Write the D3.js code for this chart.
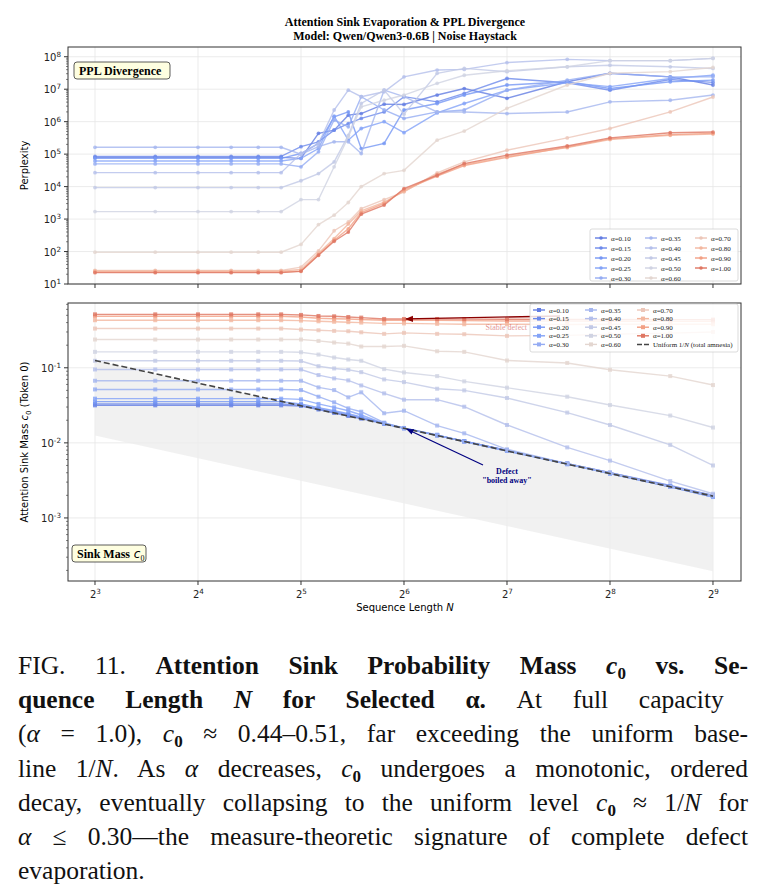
<!DOCTYPE html>
<html><head><meta charset="utf-8">
<script src="https://cdn.jsdelivr.net/npm/d3@7"></script>
<style>body{margin:0;background:#fff}svg{display:block}</style>
</head><body><svg id="c" width="766" height="892"></svg>
<script>
const seqN=[8,12,16,20,24,28,32,36,40,44,48,56,64,80,96,128,192,256,384,512];
const alphas=[0.10,0.15,0.20,0.25,0.30,0.35,0.40,0.45,0.50,0.60,0.70,0.80,0.90,1.00];
const xTickExp=[3,4,5,6,7,8,9];
const pplTickExp=[1,2,3,4,5,6,7,8];
const sinkTickExp=[-3,-2,-1];
// log10(perplexity) per alpha, one value per seqN
const pplLog10={
"0.10":[4.90,4.90,4.90,4.90,4.90,4.90,4.87,5.64,5.74,6.20,6.25,6.54,6.53,6.82,7.02,6.72,7.23,7.49,7.38,7.13],
"0.15":[4.93,4.93,4.93,4.93,4.93,4.93,5.23,5.38,5.74,5.94,6.10,6.30,6.77,6.61,6.87,7.33,7.20,6.97,7.30,7.21],
"0.20":[4.87,4.87,4.87,4.87,4.87,4.87,5.02,5.33,6.15,6.30,5.17,5.33,6.36,6.56,6.82,7.13,7.23,7.02,7.23,7.28],
"0.25":[4.79,4.79,4.79,4.79,4.79,4.79,4.87,5.17,6.17,5.43,5.79,6.00,5.66,6.27,6.56,6.97,7.20,7.08,7.33,7.43],
"0.30":[4.70,4.70,4.70,4.70,4.70,4.70,4.61,5.07,6.05,5.84,6.77,6.36,6.10,6.30,6.36,6.97,7.28,7.49,7.38,7.38],
"0.35":[5.21,5.21,5.21,5.21,5.21,5.21,5.00,5.23,5.38,5.38,5.02,6.97,6.77,6.30,6.30,6.25,6.30,6.61,6.66,6.82],
"0.40":[4.43,4.43,4.43,4.43,4.43,4.43,5.02,5.33,6.36,6.97,6.77,6.92,7.38,7.59,7.61,7.82,7.92,7.88,7.88,7.95],
"0.45":[3.97,3.97,3.97,3.97,3.97,3.97,4.18,4.40,4.76,5.58,6.56,6.97,6.23,7.49,7.64,7.54,7.69,7.74,7.69,7.64],
"0.50":[3.23,3.23,3.23,3.23,3.23,3.23,3.60,3.60,4.61,5.53,6.46,6.66,6.82,7.18,7.43,7.57,7.69,7.88,7.88,7.95],
"0.60":[1.98,1.98,1.98,1.98,1.98,1.98,2.22,2.83,3.12,3.51,4.00,4.40,4.50,5.43,5.71,6.41,7.13,7.49,7.54,7.67],
"0.70":[1.42,1.42,1.42,1.42,1.42,1.42,1.52,2.02,2.64,2.91,3.32,3.60,3.84,4.42,4.76,5.12,5.50,5.79,6.30,6.76],
"0.80":[1.40,1.40,1.40,1.40,1.40,1.40,1.45,1.95,2.40,2.85,3.25,3.52,3.85,4.38,4.68,4.93,5.20,5.45,5.58,5.62],
"0.90":[1.37,1.37,1.37,1.37,1.37,1.37,1.40,1.90,2.35,2.70,3.20,3.48,3.90,4.32,4.65,4.90,5.22,5.47,5.60,5.64],
"1.00":[1.35,1.35,1.35,1.35,1.35,1.35,1.39,1.885,2.317,2.60,3.15,3.43,3.94,4.35,4.71,4.97,5.25,5.50,5.66,5.68]};
// sink mass c0 per alpha
const sinkMass={
"0.10":[.0316,.0316,.0316,.0316,.0316,.0316,.031,.0278,.025,.0228,.021,.018,.0157,.0126,.0105,.0079,.0053,.004,.0027,.002],
"0.15":[.033,.033,.033,.033,.033,.033,.0318,.0285,.0258,.0235,.0215,.0182,.0158,.0126,.0105,.0079,.0053,.004,.0026,.002],
"0.20":[.0354,.0354,.0354,.0354,.0354,.0354,.033,.0295,.0268,.0244,.0222,.018,.0156,.0126,.0105,.0079,.0052,.0039,.0026,.0019],
"0.25":[.0388,.0388,.0388,.0388,.0388,.0388,.038,.033,.0297,.0268,.0235,.0182,.0157,.0128,.0104,.0078,.0052,.0039,.0026,.0019],
"0.30":[.0515,.0515,.0515,.0515,.0515,.0515,.0505,.0412,.0347,.0288,.026,.0186,.0157,.0128,.0104,.0078,.0053,.0039,.0026,.0019],
"0.35":[.0672,.0672,.0672,.0672,.0672,.0672,.0672,.0548,.0505,.0404,.0471,.0248,.0268,.017,.0134,.0082,.0053,.004,.0026,.002],
"0.40":[.095,.095,.095,.095,.095,.095,.095,.080,.0722,.0679,.0582,.0456,.0376,.0376,.0303,.0173,.0087,.0058,.0031,.0021],
"0.45":[.124,.124,.124,.124,.124,.124,.123,.105,.098,.094,.0875,.070,.0645,.0526,.050,.0396,.0253,.0173,.0094,.005],
"0.50":[.163,.163,.163,.163,.163,.163,.161,.15,.137,.129,.124,.096,.0867,.0775,.0659,.0543,.0412,.0319,.0231,.016],
"0.60":[.238,.238,.238,.238,.238,.238,.238,.228,.217,.21,.192,.192,.196,.166,.163,.125,.116,.094,.0775,.0589],
"0.70":[.333,.333,.333,.333,.333,.333,.323,.316,.31,.307,.297,.283,.292,.283,.28,.266,.27,.28,.29,.30],
"0.80":[.43,.43,.43,.43,.43,.43,.425,.416,.41,.405,.40,.39,.39,.385,.38,.38,.378,.38,.38,.38],
"0.90":[.485,.485,.485,.485,.485,.485,.475,.456,.45,.447,.44,.43,.43,.428,.425,.42,.418,.416,.415,.416],
"1.00":[.515,.515,.515,.515,.515,.515,.506,.49,.485,.475,.466,.447,.447,.447,.445,.443,.44,.44,.438,.438]};

const svg=d3.select("#c");
const L=68,R=741;
const top1=47,bot1=284,top2=303,bot2=581;
const x=d3.scaleLog().base(2).domain([Math.pow(2,2.738),Math.pow(2,9.272)]).range([L,R]);
const y1=d3.scaleLog().domain([10,Math.pow(10,8.3)]).range([bot1,top1]);
const y2=d3.scaleLog().domain([Math.pow(10,-3.84),Math.pow(10,-0.137)]).range([bot2,top2]);
const cw=d3.scaleLinear().domain([0,0.25,0.5,0.75,1]).range(["#3b4cc0","#7b9ff9","#dddddd","#f7ac8e","#b40426"]).interpolate(d3.interpolateLab);
const col=a=>cw(0.15+0.7*(a-0.1)/0.9);
const SANS="DejaVu Sans",SERIF="Liberation Serif";

svg.append("text").attr("x",405).attr("y",26).attr("text-anchor","middle").attr("font-family",SERIF).attr("font-weight","bold").attr("font-size",12).text("Attention Sink Evaporation & PPL Divergence");
svg.append("text").attr("x",405).attr("y",40).attr("text-anchor","middle").attr("font-family",SERIF).attr("font-weight","bold").attr("font-size",12).text("Model: Qwen/Qwen3-0.6B | Noise Haystack");

function supLabel(g,base,exp,fs){
  const t=g.append("text").attr("font-family",SANS).attr("font-size",fs).attr("fill","#222");
  t.append("tspan").text(base);
  t.append("tspan").attr("dy",-4).attr("font-size",fs*0.72).text(exp);
  return t;
}
function panel(top,bot,y,yExps){
  const g=svg.append("g");
  xTickExp.forEach(e=>g.append("line").attr("x1",x(2**e)).attr("x2",x(2**e)).attr("y1",top).attr("y2",bot).attr("stroke","#e6e6e6").attr("stroke-width",0.8));
  yExps.forEach(e=>g.append("line").attr("x1",L).attr("x2",R).attr("y1",y(10**e)).attr("y2",y(10**e)).attr("stroke","#e6e6e6").attr("stroke-width",0.8));
  return g;
}
function frame(top,bot,y,yExps){
  const g=svg.append("g");
  g.append("rect").attr("x",L).attr("y",top).attr("width",R-L).attr("height",bot-top).attr("fill","none").attr("stroke","#333").attr("stroke-width",1);
  xTickExp.forEach(e=>{
    g.append("line").attr("x1",x(2**e)).attr("x2",x(2**e)).attr("y1",bot).attr("y2",bot+4).attr("stroke","#333");
    if(bot===bot2){const t=supLabel(g,"2",String(e),10);t.attr("x",x(2**e)-5).attr("y",bot+17);}
  });
  const d=y.domain();
  for(let e=Math.floor(Math.log10(d[0]));e<=Math.ceil(Math.log10(d[1]));e++){
    for(let m=1;m<10;m++){const v=m*10**e; if(v<d[0]||v>d[1])continue;
      g.append("line").attr("x1",L).attr("x2",L-(m===1?4:2)).attr("y1",y(v)).attr("y2",y(v)).attr("stroke","#333").attr("stroke-width",m===1?1:0.6);}
  }
  yExps.forEach(e=>{const t=supLabel(g,"10",String(e),10);t.attr("x",L-7).attr("y",y(10**e)+4).attr("text-anchor","end");});
  return g;
}
function badge(xx,yy,label,sub){
  const g=svg.append("g");
  const w=sub?74:96;
  g.append("rect").attr("x",xx).attr("y",yy).attr("width",w).attr("height",17).attr("rx",3).attr("fill","#fefee0").attr("stroke","#333").attr("stroke-width",0.8);
  const t=g.append("text").attr("x",xx+5).attr("y",yy+12.5).attr("font-family",SERIF).attr("font-weight","bold").attr("font-size",12).text(label);
  if(sub){t.append("tspan").attr("font-style","italic").attr("font-weight","normal").attr("font-family",SANS).text(" c");t.append("tspan").attr("dy",3).attr("font-size",8).attr("font-weight","normal").text("0");}
}

// ---- top panel
panel(top1,bot1,y1,pplTickExp);
const line1=d3.line().x((d,i)=>x(seqN[i])).y(d=>y1(Math.pow(10,d)));
alphas.forEach(a=>{
  const k=a.toFixed(2),v=pplLog10[k],c=col(a);
  svg.append("path").attr("d",line1(v)).attr("fill","none").attr("stroke",c).attr("stroke-width",1.4).attr("opacity",0.8);
  svg.append("g").selectAll("circle").data(v).join("circle").attr("cx",(d,i)=>x(seqN[i])).attr("cy",d=>y1(Math.pow(10,d))).attr("r",1.9).attr("fill",c).attr("opacity",0.8);
});
frame(top1,bot1,y1,pplTickExp);
badge(74,62,"PPL Divergence");
svg.append("text").attr("transform",`translate(28,${(top1+bot1)/2}) rotate(-90)`).attr("text-anchor","middle").attr("font-family",SANS).attr("font-size",10).text("Perplexity");

(function(){
  const g=svg.append("g");
  g.append("rect").attr("x",590).attr("y",229).attr("width",148).attr("height",52).attr("rx",2).attr("fill","#fff").attr("fill-opacity",0.85).attr("stroke","#ccc").attr("stroke-width",0.7);
  alphas.forEach((a,i)=>{
    const ci=i<5?0:(i<10?1:2), ri=i<5?i:(i<10?i-5:i-10);
    const lx=595+ci*50, ly=238+ri*10, c=col(a);
    g.append("line").attr("x1",lx).attr("x2",lx+12).attr("y1",ly).attr("y2",ly).attr("stroke",c).attr("stroke-width",1.4);
    g.append("circle").attr("cx",lx+6).attr("cy",ly).attr("r",1.8).attr("fill",c);
    g.append("text").attr("x",lx+16).attr("y",ly+2.5).attr("font-family",SERIF).attr("font-size",7).attr("fill","#222").text("α="+a.toFixed(2));
  });
})();

// ---- bottom panel
panel(top2,bot2,y2,sinkTickExp);
const band=d3.area().x(d=>x(d)).y0(d=>y2(0.1/d)).y1(d=>y2(1/d));
svg.append("path").attr("d",band([8,512])).attr("fill","#ececec").attr("opacity",0.75);
const line2=d3.line().x((d,i)=>x(seqN[i])).y(d=>y2(d));
alphas.forEach(a=>{
  const k=a.toFixed(2),v=sinkMass[k],c=col(a);
  svg.append("path").attr("d",line2(v)).attr("fill","none").attr("stroke",c).attr("stroke-width",1.4).attr("opacity",0.8);
  svg.append("g").selectAll("rect").data(v).join("rect").attr("x",(d,i)=>x(seqN[i])-2).attr("y",d=>y2(d)-2).attr("width",4).attr("height",4).attr("fill",c).attr("opacity",0.8);
});
svg.append("path").attr("d",d3.line().x(d=>x(d)).y(d=>y2(1/d))([8,512])).attr("fill","none").attr("stroke","#444").attr("stroke-width",1.6).attr("stroke-dasharray","6,3");
const defs=svg.append("defs");
[["ahR","#8b0000"],["ahB","#000080"]].forEach(([id,c])=>defs.append("marker").attr("id",id).attr("viewBox","0 0 10 10").attr("refX",9).attr("refY",5).attr("markerWidth",6).attr("markerHeight",6).attr("orient","auto").append("path").attr("d","M0,1L10,5L0,9Z").attr("fill",c));
svg.append("line").attr("x1",560).attr("y1",316).attr("x2",x(64)+2).attr("y2",y2(0.447)).attr("stroke","#8b0000").attr("stroke-width",1.3).attr("marker-end","url(#ahR)");
svg.append("text").attr("x",527).attr("y",330).attr("text-anchor","end").attr("font-family",SERIF).attr("font-size",8).attr("fill","#c44").attr("opacity",0.55).text("Stable defect");
svg.append("line").attr("x1",483).attr("y1",465).attr("x2",x(64)+3).attr("y2",y2(0.0152)).attr("stroke","#000080").attr("stroke-width",1.2).attr("marker-end","url(#ahB)");
svg.append("text").attr("x",507).attr("y",474).attr("text-anchor","middle").attr("font-family",SERIF).attr("font-weight","bold").attr("font-size",8).attr("fill","#000080").text("Defect");
svg.append("text").attr("x",507).attr("y",483).attr("text-anchor","middle").attr("font-family",SERIF).attr("font-weight","bold").attr("font-size",8).attr("fill","#000080").text("\"boiled away\"");
frame(top2,bot2,y2,sinkTickExp);
badge(72,545,"Sink Mass",true);
(function(){
  const t=svg.append("text").attr("transform",`translate(28,${(top2+bot2)/2}) rotate(-90)`).attr("text-anchor","middle").attr("font-family",SANS).attr("font-size",10);
  t.append("tspan").text("Attention Sink Mass ");t.append("tspan").attr("font-style","italic").text("c");
  t.append("tspan").attr("dy",3).attr("font-size",7).text("0");t.append("tspan").attr("dy",-3).text(" (Token 0)");
})();
(function(){
  const t=svg.append("text").attr("x",405).attr("y",611).attr("text-anchor","middle").attr("font-family",SANS).attr("font-size",10);
  t.append("tspan").text("Sequence Length ");t.append("tspan").attr("font-style","italic").text("N");
})();
(function(){
  const g=svg.append("g");
  g.append("rect").attr("x",530).attr("y",304).attr("width",208).attr("height",48).attr("rx",2).attr("fill","#fff").attr("fill-opacity",0.85).attr("stroke","#ccc").attr("stroke-width",0.7);
  alphas.forEach((a,i)=>{
    const ci=i<5?0:(i<10?1:2), ri=i<5?i:(i<10?i-5:i-10);
    const lx=533+ci*52, ly=310+ri*8.6, c=col(a);
    g.append("line").attr("x1",lx).attr("x2",lx+12).attr("y1",ly).attr("y2",ly).attr("stroke",c).attr("stroke-width",1.4);
    g.append("rect").attr("x",lx+4).attr("y",ly-2).attr("width",4).attr("height",4).attr("fill",c);
    g.append("text").attr("x",lx+16).attr("y",ly+2.5).attr("font-family",SERIF).attr("font-size",7).attr("fill","#222").text("α="+a.toFixed(2));
  });
  const lx=533+104, ly=310+4*8.6;
  g.append("line").attr("x1",lx).attr("x2",lx+12).attr("y1",ly).attr("y2",ly).attr("stroke","#444").attr("stroke-width",1.5).attr("stroke-dasharray","5,2");
  const t=g.append("text").attr("x",lx+16).attr("y",ly+2.5).attr("font-family",SERIF).attr("font-size",7).attr("fill","#222");
  t.append("tspan").text("Uniform 1/");t.append("tspan").attr("font-style","italic").text("N");t.append("tspan").text(" (total amnesia)");
})();

// ---- caption
const cap=svg.append("g").attr("font-family",SERIF).attr("font-size",25.5).attr("fill","#111");
const capLines=[
 [["FIG. 11. ",""],["Attention Sink Probability Mass ","b"],["c","bi"],["0","bsub"],[" vs. Se-","b"]],
 [["quence Length ","b"],["N","bi"],[" for Selected ","b"],["α.","b"],["  At full capacity",""]],
 [["(",""],["α","i"],[" = 1.0), ",""],["c","i"],["0","sub"],[" ≈ 0.44–0.51, far exceeding the uniform base-",""]],
 [["line 1/",""],["N","i"],[". As ",""],["α","i"],[" decreases, ",""],["c","i"],["0","sub"],[" undergoes a monotonic, ordered",""]],
 [["decay, eventually collapsing to the uniform level ",""],["c","i"],["0","sub"],[" ≈ 1/",""],["N","i"],[" for",""]],
 [["α","i"],[" ≤ 0.30—the measure-theoretic signature of complete defect",""]],
 [["evaporation.",""]]];
capLines.forEach((ln,i)=>{
  const t=cap.append("text").attr("x",18).attr("y",674+i*34.2);
  let sub=false;
  ln.forEach(([s,f])=>{
    const sp=t.append("tspan").text(s);
    if(f.includes("b"))sp.attr("font-weight","bold");
    if(f.includes("i"))sp.attr("font-style","italic");
    if(f.includes("sub")){sp.attr("dy",5).attr("font-size",17);sub=true;}
    else if(sub){sp.attr("dy",-5);sub=false;}
  });
  if(i<6){
    const w=t.node().getComputedTextLength();
    const spaces=ln.map(d=>d[0]).join("").split(" ").length-1;
    if(w>730){t.attr("textLength",730).attr("lengthAdjust","spacingAndGlyphs");}
    else if(spaces>0){t.attr("word-spacing",(730-w)/spaces);}
  }
});
</script></body></html>
